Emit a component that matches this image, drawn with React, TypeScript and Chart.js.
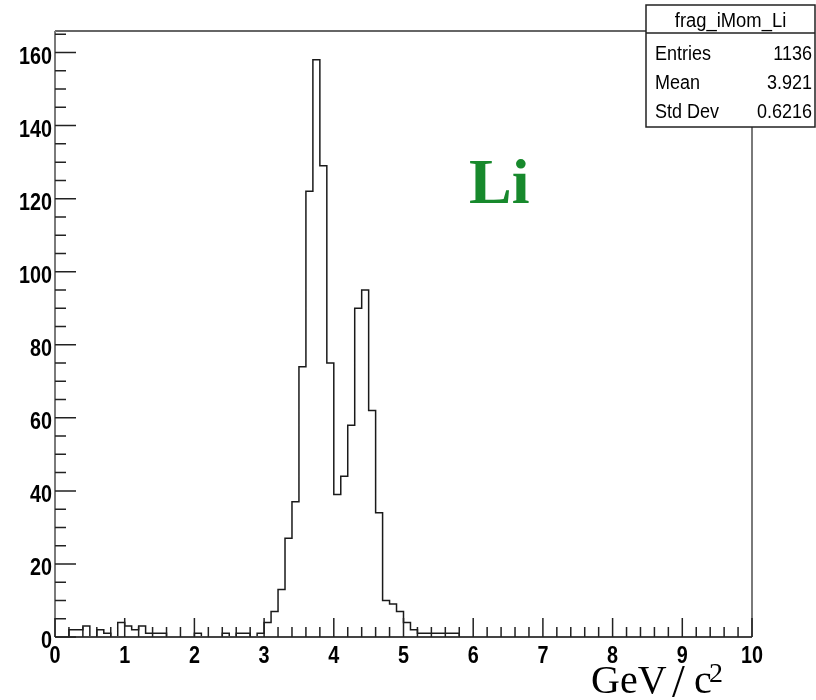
import React, { useEffect, useRef } from "react";
import { Chart, registerables } from "chart.js";

Chart.register(...registerables);

// Histogram frag_iMom_Li: 100 bins from 0 to 10
const xMin = 0;
const xMax = 10;
const binCounts = [
  0, 0, 2, 2, 3, 0, 2, 1, 0, 4,
  3, 2, 3, 1, 1, 1, 0, 0, 0, 0,
  1, 0, 0, 0, 1, 0, 1, 1, 0, 1,
  4, 7, 13, 27, 37, 74, 122, 158, 129, 75,
  39, 44, 58, 90, 95, 62, 34, 10, 9, 7,
  4, 2, 1, 1, 1, 1, 1, 1, 0, 0,
  0, 0, 0, 0, 0, 0, 0, 0, 0, 0,
  0, 0, 0, 0, 0, 0, 0, 0, 0, 0,
  0, 0, 0, 0, 0, 0, 0, 0, 0, 0,
  0, 0, 0, 0, 0, 0, 0, 0, 0, 0,
];
const yMax = 165.9;
const xTickLabels = [0, 1, 2, 3, 4, 5, 6, 7, 8, 9, 10];
const yTickLabels = [0, 20, 40, 60, 80, 100, 120, 140, 160];
const xMinorStep = 0.2;
const yMinorStep = 5;
const statsTitle = "frag_iMom_Li";
const statsNames = ["Entries", "Mean", "Std Dev"];
const statsValues = ["1136", "3.921", "0.6216"];
const particleLabel = "Li";

const TICK_FONT = "bold 23px 'Liberation Sans', Arial, sans-serif";
const STAT_FONT = "20px 'Liberation Sans', Arial, sans-serif";

function narrowText(ctx: CanvasRenderingContext2D, text: string, x: number, y: number, sx: number, sy: number) {
  ctx.save();
  ctx.translate(x, y);
  ctx.scale(sx, sy);
  ctx.fillText(text, 0, 0);
  ctx.restore();
}

const decorPlugin = {
  id: "rootDecor",
  afterDraw(chart: any) {
    const ctx = chart.ctx;
    const xs = chart.scales.x;
    const ys = chart.scales.y;
    const { left, right, top, bottom } = chart.chartArea;
    ctx.save();

    // frame
    ctx.lineWidth = 1.5;
    ctx.strokeStyle = "#333";
    ctx.beginPath();
    ctx.moveTo(left, top);
    ctx.lineTo(right, top);
    ctx.stroke();
    ctx.strokeStyle = "#7a7a7a";
    ctx.lineWidth = 2;
    ctx.beginPath();
    ctx.moveTo(right, top);
    ctx.lineTo(right, bottom);
    ctx.moveTo(left, top);
    ctx.lineTo(left, bottom);
    ctx.stroke();
    ctx.strokeStyle = "#444";
    ctx.beginPath();
    ctx.moveTo(left, bottom);
    ctx.lineTo(right, bottom);
    ctx.stroke();

    // ticks
    ctx.strokeStyle = "#222";
    ctx.lineWidth = 1.5;
    ctx.beginPath();
    const nX = Math.round((xMax - xMin) / xMinorStep);
    for (let i = 0; i <= nX; i++) {
      const v = xMin + i * xMinorStep;
      const px = xs.getPixelForValue(v);
      const major = Math.abs(v - Math.round(v)) < 1e-6;
      ctx.moveTo(px, bottom);
      ctx.lineTo(px, bottom - (major ? 19 : 10));
    }
    const nY = Math.floor(yMax / yMinorStep);
    for (let i = 0; i <= nY; i++) {
      const v = i * yMinorStep;
      const py = ys.getPixelForValue(v);
      const major = v % 20 === 0;
      ctx.moveTo(left, py);
      ctx.lineTo(left + (major ? 21 : 11), py);
    }
    ctx.stroke();

    // tick labels
    ctx.fillStyle = "#000";
    ctx.font = TICK_FONT;
    ctx.textAlign = "center";
    ctx.textBaseline = "alphabetic";
    for (const v of xTickLabels) {
      narrowText(ctx, String(v), xs.getPixelForValue(v), bottom + 26, 0.86, 1.06);
    }
    ctx.textAlign = "right";
    for (const v of yTickLabels) {
      narrowText(ctx, String(v), left - 3, ys.getPixelForValue(v) + 11, 0.86, 1.06);
    }

    // axis title GeV/c^2
    ctx.textAlign = "left";
    ctx.font = "40px 'Liberation Serif', 'Times New Roman', serif";
    ctx.fillText("GeV", 591, 693);
    ctx.save();
    ctx.font = "46px 'Liberation Serif', 'Times New Roman', serif";
    ctx.fillText("/", 672, 697);
    ctx.restore();
    ctx.fillText("c", 694, 693);
    ctx.font = "28px 'Liberation Serif', 'Times New Roman', serif";
    ctx.fillText("2", 709, 682);

    // particle label
    ctx.fillStyle = "#17892c";
    ctx.font = "bold 64px 'Liberation Serif', 'Times New Roman', serif";
    ctx.fillText(particleLabel, 469, 203);

    // stats box
    const bx = 646, by = 5, bw = 169, bh = 122;
    ctx.fillStyle = "#fff";
    ctx.fillRect(bx, by, bw, bh);
    ctx.strokeStyle = "#222";
    ctx.lineWidth = 1.5;
    ctx.strokeRect(bx, by, bw, bh);
    ctx.beginPath();
    ctx.moveTo(bx, 33);
    ctx.lineTo(bx + bw, 33);
    ctx.stroke();
    ctx.fillStyle = "#000";
    ctx.font = STAT_FONT;
    ctx.textAlign = "center";
    narrowText(ctx, statsTitle, bx + bw / 2, 27, 0.92, 1.05);
    for (let i = 0; i < statsNames.length; i++) {
      const yb = 60 + i * 29;
      ctx.textAlign = "left";
      narrowText(ctx, statsNames[i], bx + 9, yb, 0.9, 1.05);
      ctx.textAlign = "right";
      narrowText(ctx, statsValues[i], bx + bw - 3, yb, 0.9, 1.05);
    }
    ctx.restore();
  },
};

export default function App() {
  const ref = useRef<HTMLCanvasElement>(null);
  useEffect(() => {
    document.body.style.margin = "0";
    const binW = (xMax - xMin) / binCounts.length;
    const pts = binCounts.map((c, i) => ({ x: xMin + i * binW, y: c }));
    pts.push({ x: xMax, y: binCounts[binCounts.length - 1] });
    const chart = new Chart(ref.current as HTMLCanvasElement, {
      type: "line",
      data: {
        datasets: [
          {
            data: pts,
            stepped: "before",
            borderColor: "#1a1a1a",
            borderWidth: 1.5,
            pointRadius: 0,
            fill: false,
            clip: 4,
          } as any,
        ],
      },
      options: {
        animation: false,
        responsive: false,
        events: [],
        layout: { padding: { left: 55, right: 64, top: 31, bottom: 63 } },
        plugins: { legend: { display: false }, tooltip: { enabled: false } },
        scales: {
          x: { type: "linear", min: xMin, max: xMax, display: false },
          y: { type: "linear", min: 0, max: yMax, display: false },
        },
      },
      plugins: [decorPlugin],
    });
    return () => chart.destroy();
  }, []);
  return (
    <div style={{ width: 816, height: 700, background: "#fff" }}>
      <canvas ref={ref} width={816} height={700} style={{ display: "block" }} />
    </div>
  );
}
